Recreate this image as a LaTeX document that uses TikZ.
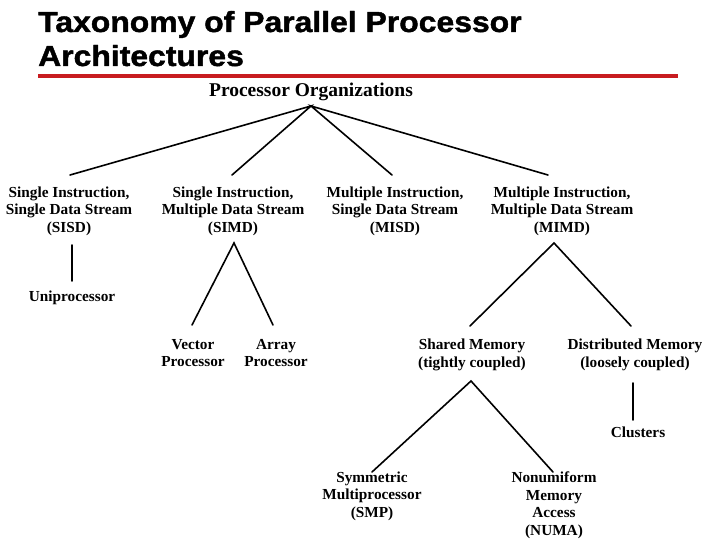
\documentclass[tikz,border=0pt]{standalone}
\usepackage{fontspec}
\setmainfont{Liberation Serif}
\newfontfamily\titlefont[FakeStretch=1.1,FakeBold=1.5]{Liberation Sans}
\definecolor{titlered}{RGB}{200,28,32}
\begin{document}
\begin{tikzpicture}[x=1pt,y=-1pt,
  box/.style={align=center,font=\fontsize{15.3}{17.5}\selectfont\bfseries,inner sep=9pt},
  conn/.style={line width=1.6pt,line cap=round}]
\useasboundingbox (0,0) rectangle (720,540);
\node[anchor=base west,inner sep=0,font=\titlefont\fontsize{29}{32}\selectfont\bfseries] (t1) at (38,32) {Taxonomy of Parallel Processor};
\node[anchor=base west,inner sep=0,font=\titlefont\fontsize{29}{32}\selectfont\bfseries] (t2) at (38,66) {Architectures};
\coordinate (rl) at (38,76);
\coordinate (rr) at (678,76);
\draw[titlered,line width=4pt] (rl) -- (rr);

\node[box,font=\fontsize{19.5}{22}\selectfont\bfseries,inner sep=5pt] (root) at (311,92) {Processor Organizations};

\node[box] (sisd) at (69,211) {Single Instruction,\\Single Data Stream\\(SISD)};
\node[box] (simd) at (233,211) {Single Instruction,\\Multiple Data Stream\\(SIMD)};
\node[box] (misd) at (395,211) {Multiple Instruction,\\Single Data Stream\\(MISD)};
\node[box] (mimd) at (562,211) {Multiple Instruction,\\Multiple Data Stream\\(MIMD)};

\node[box] (uni) at (72,298) {Uniprocessor};
\node[box] (vec) at (193,353) {Vector\\Processor};
\node[box] (arr) at (276,353) {Array\\Processor};
\node[box] (shm) at (472,355) {Shared Memory\\(tightly coupled)};
\node[box] (dsm) at (635,355) {Distributed Memory\\(loosely coupled)};
\node[box] (clu) at (638,432) {Clusters};
\node[box] (smp) at (372,496) {Symmetric\\Multiprocessor\\(SMP)};
\node[box] (numa) at (554,505) {Nonumiform\\Memory\\Access\\(NUMA)};

\coordinate (ra) at (311,106);
\coordinate (s1) at (70,175);
\coordinate (s2) at (232,175);
\coordinate (s3) at (392,175);
\coordinate (s4) at (548,175);
\draw[conn] (s1) -- (ra) -- (s2);
\draw[conn] (s3) -- (ra) -- (s4);

\coordinate (u1) at (72,245);
\coordinate (u2) at (72,281);
\draw[conn] (u1) -- (u2);

\coordinate (sa) at (234,243);
\coordinate (v1) at (192,325);
\coordinate (a1) at (273,325);
\draw[conn] (v1) -- (sa) -- (a1);

\coordinate (ma) at (554,243);
\coordinate (sh1) at (470,326);
\coordinate (ds1) at (631,326);
\draw[conn] (sh1) -- (ma) -- (ds1);

\coordinate (ha) at (471,381);
\coordinate (sm1) at (372,472);
\coordinate (nu1) at (553,472);
\draw[conn] (sm1) -- (ha) -- (nu1);

\coordinate (c1) at (633,383);
\coordinate (c2) at (633,420);
\draw[conn] (c1) -- (c2);
\end{tikzpicture}
\end{document}
